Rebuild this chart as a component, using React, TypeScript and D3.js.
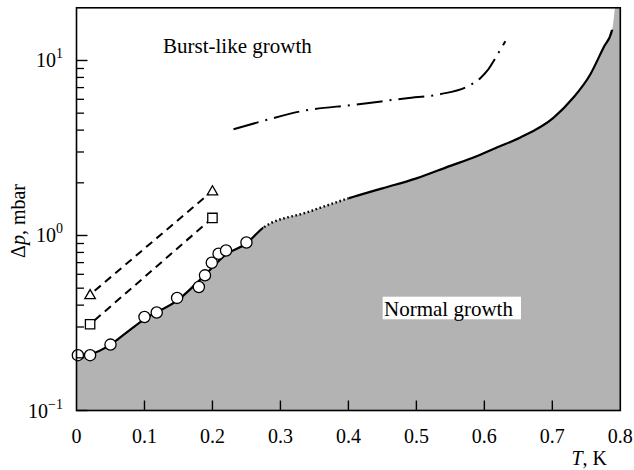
import React from 'react';
import * as d3 from 'd3';

// ---- data ----
const xTickValues = [0, 0.1, 0.2, 0.3, 0.4, 0.5, 0.6, 0.7, 0.8];
const xTickLabels = ['0', '0.1', '0.2', '0.3', '0.4', '0.5', '0.6', '0.7', '0.8'];
const yMajorValues = [0.1, 1, 10];
const yMajorExponents = ['\u22121', '0', '1'];

const circleT = [0.002, 0.02, 0.05, 0.1, 0.118, 0.148, 0.18, 0.189, 0.199, 0.209, 0.22, 0.25];
const circleP = [0.207, 0.207, 0.238, 0.342, 0.363, 0.44, 0.508, 0.592, 0.699, 0.787, 0.821, 0.912];

const triangleT = [0.02, 0.2];
const triangleP = [0.459, 1.8];
const squareT = [0.02, 0.2];
const squareP = [0.311, 1.26];

// boundary between burst-like and normal growth
const boundaryT = [0, 0.02, 0.05, 0.07, 0.1, 0.15, 0.19, 0.22, 0.25, 0.275, 0.34, 0.4, 0.45, 0.5, 0.55, 0.584, 0.62, 0.653, 0.702, 0.731, 0.756, 0.775, 0.788, 0.792];
const boundaryP = [0.207, 0.21, 0.238, 0.272, 0.333, 0.43, 0.6, 0.78, 0.9, 1.11, 1.36, 1.63, 1.86, 2.12, 2.5, 2.79, 3.2, 3.63, 4.72, 6.14, 8.35, 11.8, 15, 20];
const solidLowEnd = 0.275;
const dottedEnd = 0.4;
const solidHighEndP = 15;

const dashDotT = [0.231, 0.275, 0.334, 0.408, 0.486, 0.535, 0.575, 0.594, 0.604, 0.618, 0.631];
const dashDotP = [4.05, 4.52, 5.16, 5.58, 6.09, 6.42, 7.1, 7.92, 8.71, 10.6, 12.9];

const W = 634;
const H = 470;
const FONT = '"Liberation Serif", "Times New Roman", Times, serif';

export default function App() {
  const x = d3.scaleLinear().domain([0, 0.8]).range([76.5, 620.3]);
  const y = d3.scaleLog().domain([0.1, 20]).range([410.5, 7.8]);

  const line = d3
    .line<[number, number]>()
    .x((d) => x(d[0]))
    .y((d) => y(d[1]))
    .curve(d3.curveMonotoneX);
  const straight = d3
    .line<[number, number]>()
    .x((d) => x(d[0]))
    .y((d) => y(d[1]));

  const boundary: [number, number][] = boundaryT.map((t, i) => [t, boundaryP[i]]);
  const boundaryPath = line(boundary) || '';
  const fillPath =
    boundaryPath +
    `L${x(0.8)},${y(20)}L${x(0.8)},${y(0.1)}L${x(0)},${y(0.1)}Z`;

  const dashDot = line(dashDotT.map((t, i) => [t, dashDotP[i]] as [number, number])) || '';
  const triLine = straight(triangleT.map((t, i) => [t, triangleP[i]] as [number, number])) || '';
  const sqLine = straight(squareT.map((t, i) => [t, squareP[i]] as [number, number])) || '';

  const triSym = d3.symbol().type(d3.symbolTriangle).size(48)() || '';
  const sqSym = d3.symbol().type(d3.symbolSquare).size(88)() || '';

  const minor: number[] = [];
  [0.1, 1, 10].forEach((dec) => {
    for (let k = 2; k <= 9; k++) {
      const v = dec * k;
      if (v < 20) minor.push(v);
    }
  });

  const x0 = x(0);
  const x1 = x(0.8);
  const yTop = y(20);
  const yBot = y(0.1);

  return (
    <svg
      width={W}
      height={H}
      style={{ position: 'absolute', left: 0, top: 0, background: '#fff' }}
      fontFamily={FONT}
    >
      <defs>
        <clipPath id="cLow">
          <rect x={0} y={0} width={x(solidLowEnd)} height={H} />
        </clipPath>
        <clipPath id="cDot">
          <rect x={x(solidLowEnd)} y={0} width={x(dottedEnd) - x(solidLowEnd)} height={H} />
        </clipPath>
        <clipPath id="cHigh">
          <rect x={x(dottedEnd)} y={y(solidHighEndP)} width={W} height={H} />
        </clipPath>
      </defs>
      <rect x={0} y={0} width={W} height={H} fill="#fff" />
      {/* gray normal-growth region */}
      <path d={fillPath} fill="#b3b3b3" stroke="none" />

      {/* boundary lines */}
      <path d={boundaryPath} fill="none" stroke="#000" strokeWidth={2.2} clipPath="url(#cLow)" />
      <path d={boundaryPath} fill="none" stroke="#000" strokeWidth={2.4} strokeDasharray="1.6,2.6" clipPath="url(#cDot)" />
      <path d={boundaryPath} fill="none" stroke="#000" strokeWidth={2.2} clipPath="url(#cHigh)" />

      {/* dash-dot line */}
      <path d={dashDot} fill="none" stroke="#000" strokeWidth={2} strokeDasharray="26,7,2,7" />

      {/* dashed lines */}
      <path d={triLine} fill="none" stroke="#000" strokeWidth={2} strokeDasharray="8,5.5" strokeDashoffset={-6} />
      <path d={sqLine} fill="none" stroke="#000" strokeWidth={2} strokeDasharray="8,5.5" strokeDashoffset={-6} />

      {/* markers */}
      {triangleT.map((t, i) => (
        <path key={'t' + i} d={triSym} transform={`translate(${x(t)},${y(triangleP[i]) + 1})`} fill="#fff" stroke="#000" strokeWidth={1.3} />
      ))}
      {squareT.map((t, i) => (
        <path key={'s' + i} d={sqSym} transform={`translate(${x(t)},${y(squareP[i])})`} fill="#fff" stroke="#000" strokeWidth={1.3} />
      ))}
      {circleT.map((t, i) => (
        <circle key={'c' + i} cx={x(t)} cy={y(circleP[i])} r={5.6} fill="#fff" stroke="#000" strokeWidth={1.3} />
      ))}

      {/* frame */}
      <rect x={x0} y={yTop} width={x1 - x0} height={yBot - yTop} fill="none" stroke="#000" strokeWidth={1.6} />

      {/* x ticks */}
      {xTickValues.slice(1, -1).map((v) => (
        <line key={'xt' + v} x1={x(v)} x2={x(v)} y1={yBot} y2={yBot - 10} stroke="#000" strokeWidth={1.4} />
      ))}
      {xTickValues.map((v, i) => (
        <text key={'xl' + v} x={x(v)} y={443} fontSize={20} textAnchor="middle" fill="#000">
          {xTickLabels[i]}
        </text>
      ))}

      {/* y ticks */}
      {yMajorValues.map((v) => (
        <line key={'ym' + v} x1={x0} x2={x0 + 11} y1={y(v)} y2={y(v)} stroke="#000" strokeWidth={1.4} />
      ))}
      {minor.map((v) => (
        <line key={'yn' + v} x1={x0} x2={x0 + 7.5} y1={y(v)} y2={y(v)} stroke="#000" strokeWidth={1.3} />
      ))}
      {yMajorValues.map((v, i) => (
        <text key={'yl' + v} x={63} y={y(v) + 7} fontSize={20} textAnchor="end" fill="#000">
          10
          <tspan fontSize={14} dy={-9}>
            {yMajorExponents[i]}
          </tspan>
        </text>
      ))}

      {/* axis titles */}
      <text x={607} y={465} fontSize={20} textAnchor="end" fill="#000">
        <tspan fontStyle="italic">T</tspan>, K
      </text>
      <text transform="translate(25,221) rotate(-90)" fontSize={20} textAnchor="middle" fill="#000">
        {'\u0394'}
        <tspan fontStyle="italic">p</tspan>, mbar
      </text>

      {/* annotations */}
      <text x={163} y={53} fontSize={21} fill="#000">
        Burst-like growth
      </text>
      <rect x={382.7} y={296.7} width={138.3} height={22.6} fill="#fff" />
      <text x={384} y={316} fontSize={21} fill="#000">
        Normal growth
      </text>
    </svg>
  );
}
